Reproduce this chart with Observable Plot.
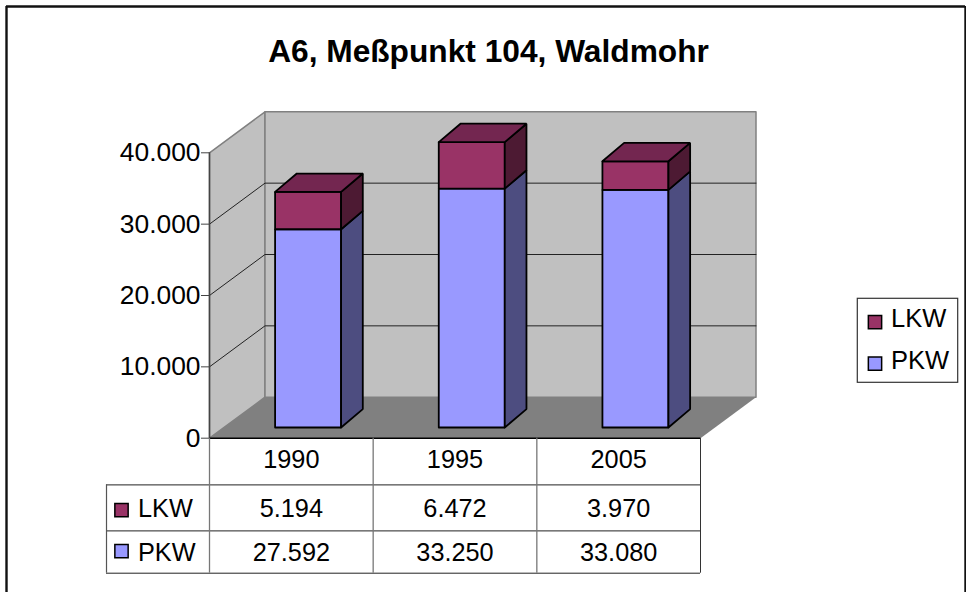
<!DOCTYPE html>
<html><head><meta charset="utf-8">
<script src="https://cdn.jsdelivr.net/npm/d3@7"></script>
<script src="https://cdn.jsdelivr.net/npm/@observablehq/plot@0.6"></script>
<style>html,body{margin:0;padding:0;background:#fff}svg{display:block}</style>
</head><body><div id="chart"></div>
<script>
const title = "A6, Meßpunkt 104, Waldmohr";
const years = ["1990", "1995", "2005"];
const lkw = [5194, 6472, 3970];
const pkw = [27592, 33250, 33080];
const yTicks = [0, 10000, 20000, 30000, 40000];
const gridValues = [10000, 20000, 30000];
const fmt = v => d3.format(",")(v).replace(/,/g, ".");

const font = "Liberation Sans, Arial, sans-serif";
const pxX = 163.67, pxY = 71.35 / 10000;         // px per data unit, used to express depth
const wall = {dx: 55.5 / pxX, dy: 41 / pxY};      // depth of the floor
const barBase = 1500;                            // bars stand in front of the back wall
const barStart = 65.6 / pxX, barW = 66 / pxX;
const barDepth = {dx: 21.7 / pxX, dy: 18.4 / pxY};
const barScale = 1.007;                          // front plane of the bars sits nearer the viewer
const row = px => -px / pxY;                     // table rows, below zero

const poly = (id, fill, pts) => [...pts, pts[0]].map(([x, y]) => ({id, fill, x, y}));

const back = poly("back", "#C0C0C0", [[wall.dx, wall.dy], [3 + wall.dx, wall.dy], [3 + wall.dx, 40000 + wall.dy], [wall.dx, 40000 + wall.dy]]);
const left = poly("left", "#C0C0C0", [[0, 0], [wall.dx, wall.dy], [wall.dx, 40000 + wall.dy], [0, 40000]]);
const floor = poly("floor", "#808080", [[0, 0], [3, 0], [3 + wall.dx, wall.dy], [wall.dx, wall.dy]]);

const boxes = [];
years.forEach((yr, i) => {
  const x0 = i + barStart, x1 = x0 + barW, d = barDepth;
  const y0 = barBase, y1 = barBase + pkw[i] * barScale, y2 = y1 + lkw[i] * barScale;
  boxes.push(...poly(yr + "pf", "#9999FF", [[x0, y0], [x1, y0], [x1, y1], [x0, y1]]));
  boxes.push(...poly(yr + "ps", "#4D4D80", [[x1, y0], [x1 + d.dx, y0 + d.dy], [x1 + d.dx, y1 + d.dy], [x1, y1]]));
  boxes.push(...poly(yr + "lf", "#993366", [[x0, y1], [x1, y1], [x1, y2], [x0, y2]]));
  boxes.push(...poly(yr + "ls", "#4D1A33", [[x1, y1], [x1 + d.dx, y1 + d.dy], [x1 + d.dx, y2 + d.dy], [x1, y2]]));
  boxes.push(...poly(yr + "lt", "#732650", [[x0, y2], [x1, y2], [x1 + d.dx, y2 + d.dy], [x0 + d.dx, y2 + d.dy]]));
});

const grid = gridValues.flatMap(v => [
  {id: v, x: 0, y: v}, {id: v, x: wall.dx, y: v + wall.dy}, {id: v, x: 3 + wall.dx, y: v + wall.dy}
]);

const rows = [{name: "LKW", values: lkw, color: "#993366", at: 71}, {name: "PKW", values: pkw, color: "#9999FF", at: 115}];
const cells = [
  ...years.map((t, i) => ({x: i + .5, y: row(22), t})),
  ...rows.flatMap(r => r.values.map((v, i) => ({x: i + .5, y: row(r.at), t: fmt(v)})))
];
const rowLines = [46.7, 92.7, 135].map(px => row(px));
const tableLeft = -103 / pxX, labelX = -71.5 / pxX;
const swatchX = -88 / pxX;

const legendX = 3 + 157.3 / pxX, legendX2 = 3 + 257.7 / pxX;
const legendTop = 139.4 / pxY, legendBottom = 55.4 / pxY;
const borderLeft = -203 / pxX, borderRight = 3 + 265 / pxX, borderTop = 40000 + 146.3 / pxY, borderBottom = row(155);

const chart = Plot.plot({
  width: 966, height: 592,
  marginLeft: 209, marginRight: 266, marginTop: 152.3, marginBottom: 154.3,
  x: {domain: [0, 3], axis: null},
  y: {domain: [0, 40000]},
  color: {type: "identity"},
  style: {fontFamily: font, background: "#fff", overflow: "visible"},
  marks: [
    // plot walls
    Plot.line([...left, ...back], {x: "x", y: "y", z: "id", fill: "fill", stroke: "#808080", strokeWidth: 1.5, curve: "linear"}),
    Plot.line(grid, {x: "x", y: "y", z: "id", stroke: "#222", strokeWidth: 1}),
    Plot.line(floor, {x: "x", y: "y", z: "id", fill: "fill", stroke: "none"}),
    Plot.ruleX([0], {y1: 0, y2: 40000, stroke: "#444", strokeWidth: 1.5}),
    // bars
    Plot.line(boxes, {x: "x", y: "y", z: "id", fill: "fill", stroke: "#000", strokeWidth: 1.8, strokeLinejoin: "miter"}),
    // axis
    Plot.axisY(yTicks, {anchor: "left", tickSize: 8, tickPadding: 1, tickFormat: fmt, fontSize: 26.4, fill: "#000", stroke: "#444", label: null}),
    // table
    Plot.ruleY([0], {x1: 0, x2: 3, stroke: "#000", strokeWidth: 1.5}),
    Plot.ruleY(rowLines, {x1: tableLeft, x2: 3, stroke: "#222", strokeWidth: 1}),
    Plot.ruleX([0, 1, 2], {y1: 0, y2: rowLines[2], stroke: "#777", strokeWidth: 1.3}),
    Plot.ruleX([3], {y1: 0, y2: rowLines[2], stroke: "#333", strokeWidth: 1}),
    Plot.ruleX([tableLeft], {y1: rowLines[0], y2: rowLines[2], stroke: "#555", strokeWidth: 1.2}),
    Plot.text(cells, {x: "x", y: "y", text: "t", fontSize: 25.3, fill: "#000"}),
    Plot.text(rows, {x: labelX, y: d => row(d.at), text: "name", fontSize: 25.3, textAnchor: "start", fill: "#000"}),
    Plot.dot(rows, {x: swatchX, y: d => row(d.at === 71 ? 72 : 113), r: 7.5, symbol: "square", fill: "color", stroke: "#000", strokeWidth: 1.5}),
    // legend
    Plot.rect([0], {x1: legendX, x2: legendX2, y1: legendBottom, y2: legendTop, fill: "#fff", stroke: "#333", strokeWidth: 1.2}),
    Plot.dot(rows, {x: 3 + 174.5 / pxX, y: d => d.name === "LKW" ? 116 / pxY : 74.5 / pxY, r: 7.5, symbol: "square", fill: "color", stroke: "#000", strokeWidth: 1.5}),
    Plot.text(rows, {x: 3 + 190.5 / pxX, y: d => d.name === "LKW" ? 119 / pxY : 77 / pxY, text: "name", fontSize: 25.5, textAnchor: "start", fill: "#000"}),
    // title
    Plot.text([title], {frameAnchor: "top", dx: 33.5, dy: -113, fontSize: 31.7, fontWeight: "bold", fill: "#000", textAnchor: "middle"}),
    // border
    Plot.ruleX([borderLeft, borderRight], {y1: borderBottom, y2: borderTop, stroke: "#111", strokeWidth: 2.4}),
    Plot.ruleY([borderTop], {x1: borderLeft, x2: borderRight, stroke: "#111", strokeWidth: 2.4})
  ]
});
document.getElementById("chart").append(chart);
</script></body></html>
